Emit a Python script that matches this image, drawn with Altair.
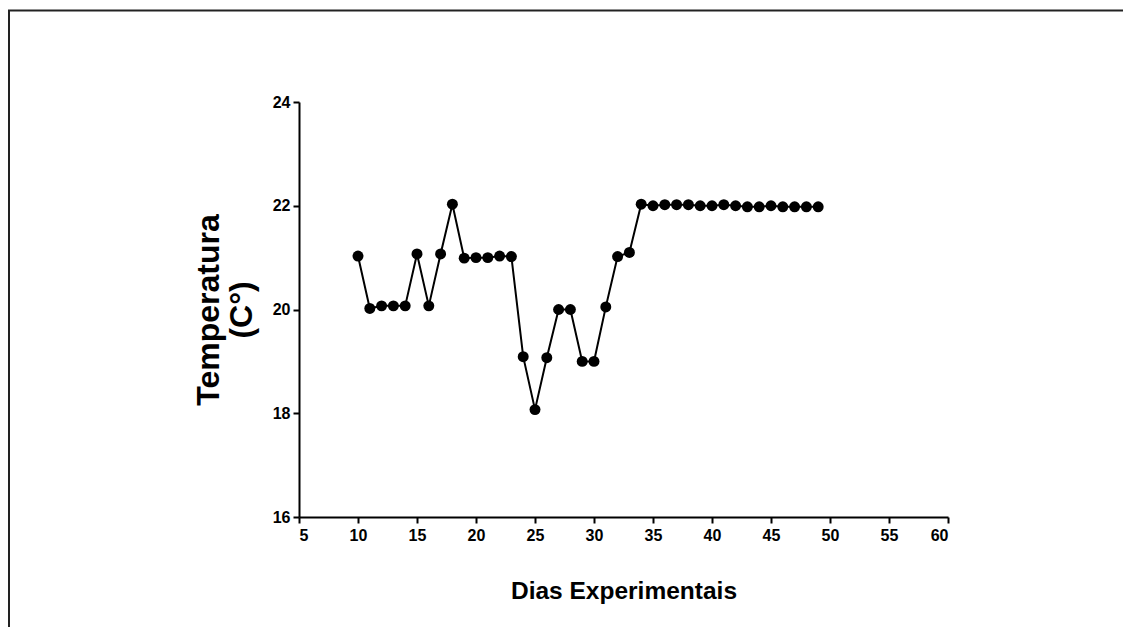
import altair as alt
import pandas as pd

days = list(range(10, 50))
temps = [21.03, 20.02, 20.07, 20.07, 20.07, 21.07, 20.07, 21.07, 22.03, 20.99,
         21.0, 21.0, 21.03, 21.02, 19.09, 18.07, 19.07, 20.0, 20.0, 19.0,
         19.0, 20.05, 21.02, 21.1, 22.03, 22.0, 22.02, 22.02, 22.02, 22.0,
         22.0, 22.02, 22.0, 21.98, 21.98, 22.0, 21.98, 21.98, 21.98, 21.98]
x_ticks = [5, 10, 15, 20, 25, 30, 35, 40, 45, 50, 55, 60]
y_ticks = [16, 18, 20, 22, 24]

df = pd.DataFrame({"dia": days, "temp": temps})

FONT = "Liberation Sans"

x = alt.X("dia:Q", scale=alt.Scale(domain=[5, 60], nice=False, zero=False),
          axis=alt.Axis(values=x_ticks, title="Dias Experimentais", grid=False,
                        domainColor="black", domainWidth=2, tickColor="black",
                        tickWidth=2, tickSize=6, labelFontSize=16, labelFontWeight="bold",
                        labelColor="black", labelFont=FONT, labelPadding=4,
                        titleFont=FONT, titleFontSize=24.5, titleFontWeight="bold",
                        titleColor="black", titlePadding=36))
y = alt.Y("temp:Q", scale=alt.Scale(domain=[16, 24], nice=False, zero=False),
          axis=alt.Axis(values=y_ticks, title=["Temperatura", "(C°)"], grid=False,
                        domainColor="black", domainWidth=2, tickColor="black",
                        tickWidth=2, tickSize=6, labelFontSize=16, labelFontWeight="bold",
                        labelColor="black", labelFont=FONT, labelPadding=3,
                        titleFont=FONT, titleFontSize=32, titleFontWeight="bold",
                        titleColor="black", titlePadding=14, titleLineHeight=33))

base = alt.Chart(df)
line = base.mark_line(color="black", strokeWidth=2).encode(x=x, y=y)
pts = base.mark_circle(color="black", opacity=1, size=120).encode(x=x, y=y)

frame_top = alt.Chart(pd.DataFrame({"a": [0]})).mark_rule(color="#222", strokeWidth=2, clip=False).encode(
    x=alt.value(-291), x2=alt.value(840), y=alt.value(-91.5))
frame_left = alt.Chart(pd.DataFrame({"a": [0]})).mark_rule(color="#222", strokeWidth=2, clip=False).encode(
    x=alt.value(-290), x2=alt.value(-290), y=alt.value(-92), y2=alt.value(540))

chart = alt.layer(frame_top, frame_left, line, pts).properties(
    width=649, height=415,
    autosize=alt.AutoSizeParams(type="none"),
    padding={"left": 291, "top": 94, "right": 175, "bottom": 110},
).configure_view(stroke=None)

chart.save("out.html", embed_options={"renderer": "svg", "actions": False})
